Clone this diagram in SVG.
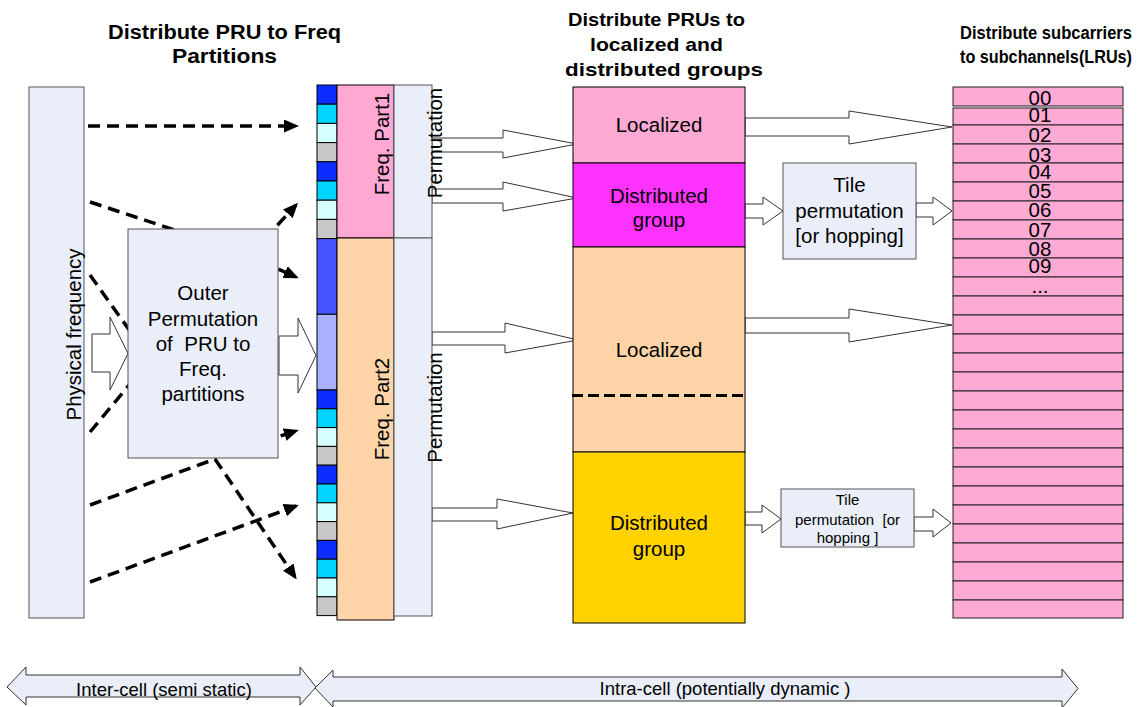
<svg xmlns="http://www.w3.org/2000/svg" width="1138" height="707" viewBox="0 0 1138 707">
<style>
text{font-family:"Liberation Sans",Arial,sans-serif;fill:#000}
.h{font-size:19px;font-weight:bold;text-anchor:middle}
.t{font-size:20.5px;text-anchor:middle}
.box{fill:#e9eef8;stroke:#555;stroke-width:1}
.blk{fill:#fff;stroke:#333;stroke-width:1}
.dash{fill:none;stroke:#000;stroke-width:3.5;stroke-dasharray:12,7}
.c{stroke:#000;stroke-width:1}
.b1{fill:#0d2cff}.b2{fill:#00d4ff}.b3{fill:#d6ffff}.b4{fill:#c8c8c8}
.row{fill:#ffaad5;stroke:#222;stroke-width:1}
.lbl{font-size:20.5px;text-anchor:middle}
</style>
<defs>
<marker id="ah" markerUnits="userSpaceOnUse" markerWidth="15" markerHeight="13" refX="12" refY="6.5" orient="auto">
<path d="M0,0 L15,6.5 L0,13 z" fill="#000"/>
</marker>
</defs>
<rect width="1138" height="707" fill="#fff"/>

<g id="headings">
<text class="h" style="font-size:20px" x="224.5" y="39" textLength="233" lengthAdjust="spacingAndGlyphs">Distribute PRU to Freq</text>
<text class="h" style="font-size:20px" x="224.5" y="63" textLength="105" lengthAdjust="spacingAndGlyphs">Partitions</text>
<text class="h" x="656.5" y="26" textLength="177" lengthAdjust="spacingAndGlyphs">Distribute PRUs to</text>
<text class="h" x="656.5" y="51" textLength="133" lengthAdjust="spacingAndGlyphs">localized and</text>
<text class="h" x="664" y="76" textLength="198" lengthAdjust="spacingAndGlyphs">distributed groups</text>
<text class="h" style="font-size:18px" x="1046" y="39" textLength="172" lengthAdjust="spacingAndGlyphs">Distribute subcarriers</text>
<text class="h" style="font-size:18px" x="1046" y="63" textLength="172" lengthAdjust="spacingAndGlyphs">to subchannels(LRUs)</text>
</g>

<g id="connectors">
<path class="dash" d="M88,126 L296,126" marker-end="url(#ah)"/>
<path class="dash" d="M90,202 L250,255 L296,205" marker-end="url(#ah)"/>
<path class="dash" d="M90,275 L150,359 L240,252 L296,277" marker-end="url(#ah)"/>
<path class="dash" d="M90,432 L140,372 L240,449 L296,431" marker-end="url(#ah)"/>
<path class="dash" d="M90,505 L215,459 L295,577" marker-end="url(#ah)"/>
<path class="dash" d="M90,582 L296,506" marker-end="url(#ah)"/>
<path class="blk" d="M92,334 L110,334 L110,317 L128,353.5 L110,390 L110,372 L92,372 z"/>
<path class="blk" d="M279,336 L298,336 L298,318 L316,355.5 L298,393 L298,375 L279,375 z"/>
<path class="blk" d="M432,138 L503,138 L503,130 L577,144 L503,158 L503,152 L432,152 z"/>
<path class="blk" d="M432,189 L503,189 L503,182 L577,198 L503,211 L503,203 L432,203 z"/>
<path class="blk" d="M432,332 L505,332 L505,323 L578,340 L505,353 L505,345 L432,345 z"/>
<path class="blk" d="M432,508 L497,508 L497,499 L573,513 L497,529 L497,521 L432,521 z"/>
<path class="blk" d="M745,118 L849,118 L849,111 L952,127 L849,144 L849,136 L745,136 z"/>
<path class="blk" d="M745,204 L763,204 L763,197 L783,211 L763,225 L763,218 L745,218 z"/>
<path class="blk" d="M916,203 L933,203 L933,197 L952,211 L933,225 L933,217 L916,217 z"/>
<path class="blk" d="M745,318 L849,318 L849,309 L952,325 L849,342 L849,333 L745,333 z"/>
<path class="blk" d="M745,512 L762,512 L762,505 L781,519 L762,533 L762,525 L745,525 z"/>
<path class="blk" d="M914,517 L933,517 L933,509 L951,523 L933,537 L933,531 L914,531 z"/>
</g>

<g id="physical">
<rect class="box" x="29" y="87" width="55" height="531"/>
<text class="t" transform="rotate(-90 81 334.5)" x="81" y="334.5">Physical frequency</text>
</g>

<g id="outer">
<rect class="box" x="128" y="229" width="150" height="229"/>
<text class="t" x="203" y="300">Outer</text>
<text class="t" x="203" y="325.5">Permutation</text>
<text class="t" x="203" y="350.5" xml:space="preserve">of  PRU to</text>
<text class="t" x="203" y="375.5">Freq.</text>
<text class="t" x="203" y="400.5">partitions</text>
</g>

<g id="prus">
<rect class="c b1" x="317" y="85" width="20" height="19.2"/>
<rect class="c b2" x="317" y="104.2" width="20" height="19.2"/>
<rect class="c b3" x="317" y="123.4" width="20" height="19.2"/>
<rect class="c b4" x="317" y="142.6" width="20" height="19.2"/>
<rect class="c b1" x="317" y="161.8" width="20" height="19.2"/>
<rect class="c b2" x="317" y="181" width="20" height="19.2"/>
<rect class="c b3" x="317" y="200.2" width="20" height="19.2"/>
<rect class="c b4" x="317" y="219.4" width="20" height="19.2"/>
<rect class="c" fill="#4455ff" x="317" y="238.6" width="20" height="75.7"/>
<rect class="c" fill="#aab2ff" x="317" y="314.3" width="20" height="75.7"/>
<rect class="c b1" x="317" y="390" width="20" height="18.8"/>
<rect class="c b2" x="317" y="408.8" width="20" height="18.8"/>
<rect class="c b3" x="317" y="427.6" width="20" height="18.8"/>
<rect class="c b4" x="317" y="446.4" width="20" height="18.8"/>
<rect class="c b1" x="317" y="465.2" width="20" height="18.8"/>
<rect class="c b2" x="317" y="484" width="20" height="18.8"/>
<rect class="c b3" x="317" y="502.8" width="20" height="18.8"/>
<rect class="c b4" x="317" y="521.6" width="20" height="18.8"/>
<rect class="c b1" x="317" y="540.4" width="20" height="18.8"/>
<rect class="c b2" x="317" y="559.2" width="20" height="18.8"/>
<rect class="c b3" x="317" y="578" width="20" height="18.8"/>
<rect class="c b4" x="317" y="596.8" width="20" height="18.8"/>
</g>

<g id="freq-part1">
<rect class="c" fill="#ffa8d4" x="337" y="85" width="57" height="153"/>
<text class="t" transform="rotate(-90 389 144)" x="389" y="144">Freq. Part1</text>
</g>
<g id="freq-part2">
<rect class="c" fill="#ffd4a8" x="337" y="238" width="57" height="382"/>
<text class="t" transform="rotate(-90 389 409)" x="389" y="409">Freq. Part2</text>
</g>
<g id="permutation1">
<rect class="box" x="394" y="85" width="38" height="153"/>
<text class="t" transform="rotate(-90 442 143)" x="442" y="143">Permutation</text>
</g>
<g id="permutation2">
<rect class="box" x="394" y="238" width="38" height="378"/>
<text class="t" transform="rotate(-90 442 407.5)" x="442" y="407.5">Permutation</text>
</g>

<g id="localized1">
<rect class="c" fill="#ffaad5" x="573" y="87" width="172" height="76"/>
<text class="t" x="659" y="132">Localized</text>
</g>
<g id="distributed1">
<rect class="c" fill="#ff33ff" x="573" y="163" width="172" height="84"/>
<text class="t" x="659" y="203">Distributed</text>
<text class="t" x="659" y="227">group</text>
</g>
<g id="localized2">
<rect class="c" fill="#ffd4a8" x="573" y="247" width="172" height="205"/>
<line x1="572" y1="395.5" x2="748" y2="395.5" stroke="#000" stroke-width="3" stroke-dasharray="11,5"/>
<text class="t" x="659" y="357">Localized</text>
</g>
<g id="distributed2">
<rect class="c" fill="#ffd200" x="573" y="452" width="172" height="171"/>
<text class="t" x="659" y="530">Distributed</text>
<text class="t" x="659" y="556">group</text>
</g>

<g id="tile1">
<rect class="box" x="783" y="163" width="133" height="96"/>
<text class="t" x="849.5" y="192">Tile</text>
<text class="t" x="849.5" y="218">permutation</text>
<text class="t" x="849.5" y="243">[or hopping]</text>
</g>
<g id="tile2">
<rect class="box" x="781" y="489" width="133" height="58"/>
<text class="t" style="font-size:15px" x="847.5" y="505">Tile</text>
<text class="t" style="font-size:15px" x="847.5" y="525" xml:space="preserve">permutation  [or</text>
<text class="t" style="font-size:15px" x="847.5" y="543">hopping ]</text>
</g>

<g id="subchannels">
<rect class="row" x="953" y="87" width="170" height="19"/>
<rect class="row" x="953" y="108" width="170" height="17"/>
<rect class="row" x="953" y="125" width="170" height="19"/>
<rect class="row" x="953" y="144" width="170" height="19"/>
<rect class="row" x="953" y="163" width="170" height="19"/>
<rect class="row" x="953" y="182" width="170" height="19"/>
<rect class="row" x="953" y="201" width="170" height="19"/>
<rect class="row" x="953" y="220" width="170" height="19"/>
<rect class="row" x="953" y="239" width="170" height="19"/>
<rect class="row" x="953" y="258" width="170" height="19"/>
<rect class="row" x="953" y="277" width="170" height="19"/>
<rect class="row" x="953" y="296" width="170" height="19"/>
<rect class="row" x="953" y="315" width="170" height="19"/>
<rect class="row" x="953" y="334" width="170" height="19"/>
<rect class="row" x="953" y="353" width="170" height="19"/>
<rect class="row" x="953" y="372" width="170" height="19"/>
<rect class="row" x="953" y="391" width="170" height="19"/>
<rect class="row" x="953" y="410" width="170" height="19"/>
<rect class="row" x="953" y="429" width="170" height="19"/>
<rect class="row" x="953" y="448" width="170" height="19"/>
<rect class="row" x="953" y="467" width="170" height="19"/>
<rect class="row" x="953" y="486" width="170" height="19"/>
<rect class="row" x="953" y="505" width="170" height="19"/>
<rect class="row" x="953" y="524" width="170" height="19"/>
<rect class="row" x="953" y="543" width="170" height="19"/>
<rect class="row" x="953" y="562" width="170" height="19"/>
<rect class="row" x="953" y="581" width="170" height="19"/>
<rect class="row" x="953" y="600" width="170" height="18"/>
<text class="lbl" x="1040" y="105">00</text>
<text class="lbl" x="1040" y="122">01</text>
<text class="lbl" x="1040" y="142">02</text>
<text class="lbl" x="1040" y="162">03</text>
<text class="lbl" x="1040" y="179">04</text>
<text class="lbl" x="1040" y="198">05</text>
<text class="lbl" x="1040" y="217">06</text>
<text class="lbl" x="1040" y="237">07</text>
<text class="lbl" x="1040" y="256">08</text>
<text class="lbl" x="1040" y="273">09</text>
<text class="lbl" x="1040" y="293">...</text>
</g>

<g id="inter-cell">
<path class="box" style="stroke:#333" d="M7,687 L26,667 L26,675 L300,675 L300,667 L316,687 L300,705 L300,697 L26,697 L26,705 z"/>
<text x="164" y="696" style="font-size:18.5px;text-anchor:middle">Inter-cell (semi static)</text>
</g>
<g id="intra-cell">
<path class="box" style="stroke:#333" d="M315,688 L333,670 L333,677 L1062,677 L1062,669 L1078,688.5 L1062,708 L1062,701 L333,701 L333,707 z"/>
<text x="725" y="695" style="font-size:18.5px;text-anchor:middle">Intra-cell (potentially dynamic )</text>
</g>
</svg>
